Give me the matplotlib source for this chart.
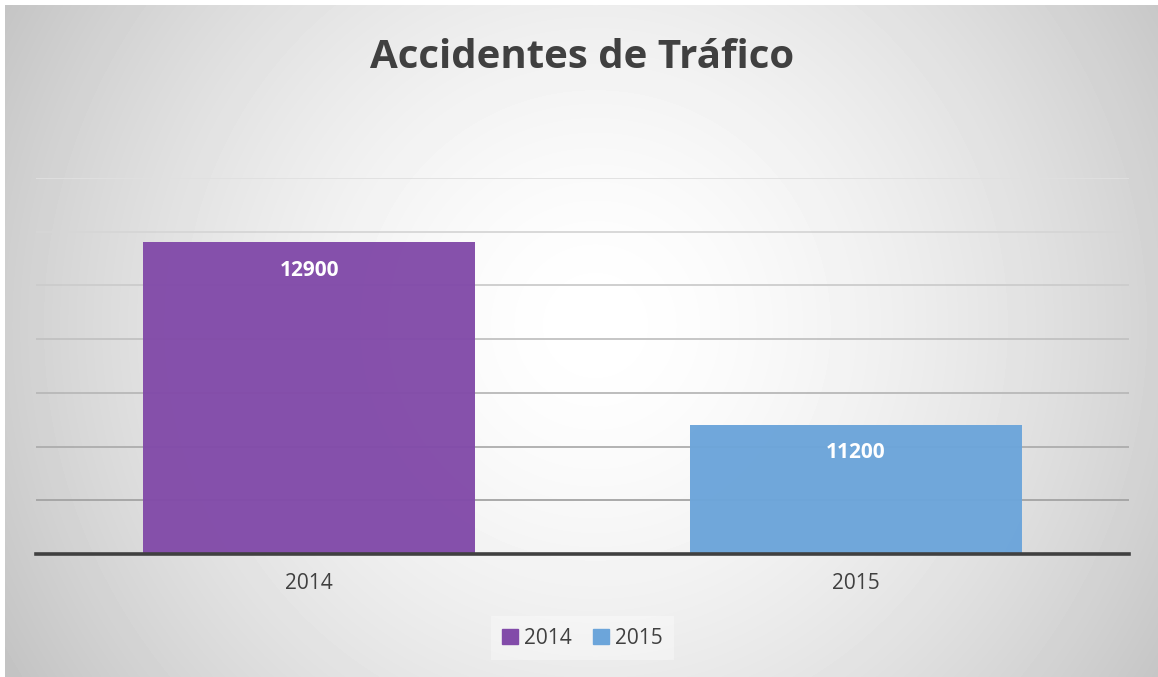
import numpy as np
import matplotlib
matplotlib.use('Agg')
import matplotlib.pyplot as plt
from matplotlib.patches import Patch

years = ['2014', '2015']
accidents = [12900, 11200]
bar_colors = ['#824BA9', '#6CA5DA']
grid_ticks = [10500, 11000, 11500, 12000, 12500, 13000, 13500]

W, H = 1158, 677
fig = plt.figure(figsize=(W / 100, H / 100), dpi=100)
fig.patch.set_facecolor('white')

# radial gradient background
bg = fig.add_axes([5 / W, 0, 1 - 5 / W, 1 - 5 / H], zorder=-10)
yy, xx = np.mgrid[0:672, 0:1153]
cx, cy = 590, 320
r = np.sqrt((xx - cx) ** 2 + (yy - cy) ** 2) / np.sqrt(cx ** 2 + cy ** 2)
val = 1 - 0.23 * np.clip(r, 0, 1.1) ** 1.6
bg.imshow(val, cmap='gray', vmin=0, vmax=1, aspect='auto', interpolation='bilinear')
bg.axis('off')

ax = fig.add_axes([36 / W, 1 - 554 / H, (1129 - 36) / W, (554 - 178) / H])
ax.set_facecolor('none')
x = np.arange(len(years))
ax.set_xlim(-0.5, 1.5)
ax.set_ylim(10000, 13500)

# gridlines, lighter at the top
for i, t in enumerate(grid_ticks):
    shade = 0.64 + 0.24 * (i / (len(grid_ticks) - 1))
    ax.axhline(t, color=(shade, shade, shade), lw=1.3, zorder=1)

bars = ax.bar(x, [v - 10000 for v in accidents], bottom=10000, width=0.608,
              color=bar_colors, alpha=0.97, zorder=2)

for xi, v in zip(x, accidents):
    ax.annotate(str(v), (xi, v), xytext=(0, -20), textcoords='offset points',
                ha='center', va='center', color='white', fontsize=15,
                fontweight='bold', family=['Open Sans', 'DejaVu Sans'], zorder=3)

for s in ['top', 'right', 'left']:
    ax.spines[s].set_visible(False)
ax.spines['bottom'].set_color('#404040')
ax.spines['bottom'].set_linewidth(2.6)
ax.spines['bottom'].set_zorder(4)
ax.set_yticks([])
ax.set_xticks(x)
ax.set_xticklabels(years, fontsize=15, color='#404040', family=['Open Sans', 'DejaVu Sans'])
ax.tick_params(axis='x', length=0, pad=14)

fig.text(0.503, 1 - 58 / H, 'Accidentes de Tráfico', ha='center', va='center',
         fontsize=29, fontweight='bold', color='#404040',
         family=['Open Sans', 'DejaVu Sans'])

handles = [Patch(color=c, label=y) for c, y in zip(bar_colors, years)]
leg = fig.legend(handles=handles, loc='center', bbox_to_anchor=(0.503, 1 - 638 / H),
                 ncol=2, frameon=True, handlelength=0.75, handleheight=0.75,
                 handletextpad=0.3, columnspacing=1.0, borderpad=0.55,
                 prop={'family': ['Open Sans', 'DejaVu Sans'], 'size': 15})
leg.get_frame().set_facecolor('white')
leg.get_frame().set_alpha(0.35)
leg.get_frame().set_edgecolor('none')
leg.get_frame().set_boxstyle('square', pad=0)
for t in leg.get_texts():
    t.set_color('#404040')

fig.savefig('out.png', dpi=100)
